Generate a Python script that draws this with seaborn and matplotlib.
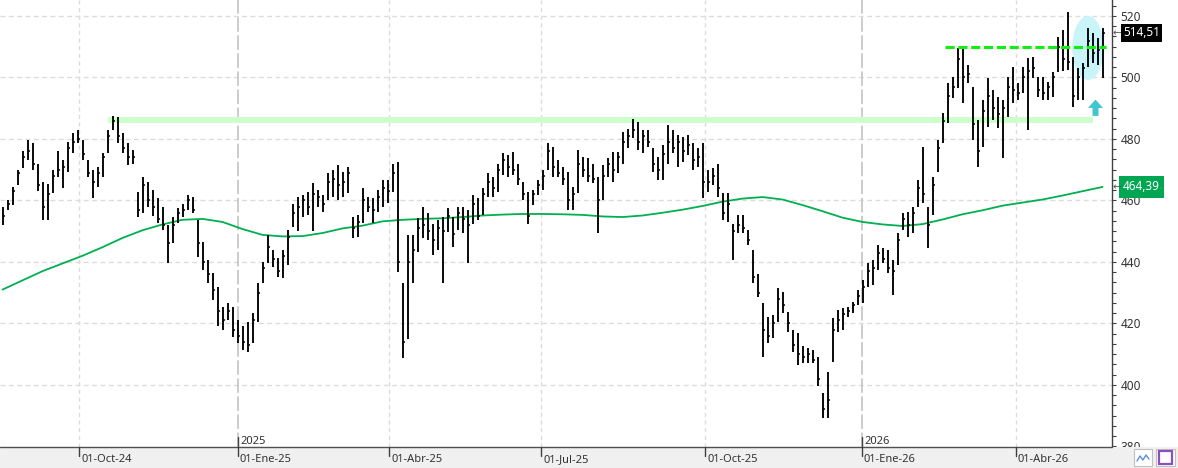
import numpy as np
import pandas as pd
import matplotlib
matplotlib.use("Agg")
import matplotlib.pyplot as plt
import matplotlib.transforms as mtrans
from matplotlib.patches import Ellipse, Polygon, Rectangle
from matplotlib.lines import Line2D
from matplotlib.ticker import MultipleLocator, AutoMinorLocator
import seaborn as sns

# -------------------------
# Price bars (one bar every 2 sessions)
# -------------------------
bar_high = [
    458, 460, 464.5, 470, 476, 479.6, 478.6, 472, 466, 465.5,
    470, 476, 473, 479, 481.8, 482.9, 479.6, 473, 470, 471,
    475.3, 482.9, 487.4, 487.2, 481.8, 478.6, 476.4, 462.8, 467.7, 466,
    463.4, 460.7, 458, 452, 454.7, 457.4, 459, 461.8, 461, 453.6,
    446.6, 440.6, 436.3, 432, 425.5, 426.6, 425.5, 421, 419, 420.6,
    423.3, 433, 440, 448.8, 443.9, 441.2, 443.9, 450.4, 459, 461.2,
    461.8, 462.9, 465.6, 463.4, 461.8, 468.8, 469.9, 471.5, 469.4, 471,
    454.7, 455.3, 464, 461.2, 460.7, 463.4, 466.7, 466.7, 472, 472.6,
    433, 448.8, 448.8, 454.2, 458, 456, 452.5, 453.6, 454.7, 457.4,
    454.7, 458, 458, 456.9, 461.8, 460.7, 463.9, 468.8, 467.7, 472,
    475.3, 474.8, 475.8, 472, 466.1, 462.8, 463.4, 466.6, 469.9, 478.6,
    477.5, 473.1, 471, 469.3, 464.5, 476.4, 474.2, 473.7, 472, 467.7,
    471.5, 473.7, 475.8, 475.8, 482.4, 483.4, 486.4, 485.6, 482.9, 482.9,
    476.9, 474.2, 478, 484.5, 482.9, 481.3, 480.7, 481.3, 478.6, 476.9,
    478.6, 469.9, 470.4, 472, 462.3, 462.3, 452.5, 455.3, 455.3, 450.4,
    443.9, 436, 426.6, 422.2, 422.8, 431.4, 430.3, 423.8, 417.9, 416.8,
    412.5, 411.9, 411.4, 409.2, 397.3, 404.3, 421.7, 424.4, 424.9, 425.5,
    427.1, 430.9, 434.1, 439.6, 440.6, 445.5, 444.4, 443.9, 440.6, 449.3,
    455.8, 456.4, 458, 466.7, 477.5, 458, 467.7, 479.7, 488.4, 498.1,
    500.3, 509.5, 509.5, 504.1, 497, 486.2, 492.7, 499.7, 495.9, 493.8,
    492.7, 500.3, 503.5, 498.1, 503.5, 506.2, 506.8, 500.3, 500.3, 498.6,
    501.9, 513.3, 515.4, 521.4, 506.8, 503, 504.6, 516, 514.4, 512.7, 516,
]
bar_low = [
    452, 457, 458.5, 465, 470.4, 473, 470, 463, 453.6, 453.6,
    462.3, 467.7, 464, 469.4, 475.3, 478.6, 473, 467.7, 460.7, 464.5,
    467.7, 475.3, 482.9, 478.6, 475.3, 471.5, 472, 454.7, 455.8, 458,
    455, 452.6, 450.4, 439.5, 446, 452.6, 454.7, 456.9, 455.8, 441.7,
    437.4, 433, 427.6, 419, 417.9, 421.1, 415.7, 413.5, 411.4, 410.8,
    413.5, 420.6, 433, 439.6, 438.5, 435.2, 434.7, 439, 451.5, 449.9,
    454.7, 455.3, 449.9, 458, 456.4, 460.2, 461.2, 460.2, 461.2, 462.3,
    447.7, 448.2, 452.6, 456.4, 452.6, 456.4, 458, 459.1, 462.8, 436.8,
    408.6, 415, 433, 443.3, 447.7, 447, 442.2, 443.9, 433, 449.8,
    445, 450.4, 449.3, 439.5, 452.5, 453.6, 455.3, 461.2, 461.2, 462.8,
    468.3, 467.7, 468.3, 465, 460.1, 452.5, 458.5, 461.8, 463.4, 470,
    467.7, 467.7, 465, 456.9, 456.9, 462.3, 467.7, 466.1, 465.6, 449.3,
    460.1, 467.7, 466.1, 468.8, 472, 477, 480.2, 476.4, 475.3, 477.5,
    469.3, 466.6, 466.6, 472, 475.3, 471, 472.6, 474.8, 469.9, 471,
    460.7, 462.8, 465, 461.2, 453.6, 453.1, 440.6, 449.3, 449.3, 445.5,
    433.3, 428.7, 409.2, 413.5, 415.2, 420.6, 423.3, 417.3, 410.8, 406.5,
    407, 407, 407, 399.5, 389.2, 389.2, 407.6, 417.3, 417.9, 422.2,
    423.3, 426, 426.6, 432, 432.5, 437.4, 439.6, 436.3, 429.3, 439,
    450.4, 448.2, 449.3, 458, 459.1, 444.4, 455.3, 469.4, 478.6, 485.1,
    493.2, 496.5, 491.6, 498.1, 479.7, 471, 477.5, 484, 486.2, 483.5,
    473.8, 487.3, 491.6, 492.7, 494.9, 482.9, 499.7, 493.8, 492.7, 492.7,
    493.8, 501.9, 502, 502.4, 490.5, 492.7, 492.7, 503.5, 504.6, 504.1, 499.7,
]
bar_close = [
    455, 459, 463, 469, 474, 476, 472, 465, 458, 462,
    468, 470, 471, 477, 479, 480, 475, 469, 466, 469,
    474, 481, 486, 481, 477, 474, 474, 457, 465, 460,
    458, 454, 452, 446, 452, 456, 457, 460, 457, 446,
    440, 436, 431, 424, 421, 424, 418, 416, 414, 413,
    421, 430, 438, 445, 441, 437, 442, 448, 456, 458,
    460, 458, 462, 461, 459, 466, 467, 465, 466, 469,
    451, 453, 460, 458, 457, 461, 464, 463, 469, 440,
    414, 440, 444, 451, 452, 450, 447, 451, 450, 455,
    449, 456, 454, 452, 459, 455, 462, 466, 464, 470,
    473, 471, 470, 467, 462, 455, 462, 465, 468, 476,
    471, 469, 467, 460, 462, 472, 470, 468, 467, 460,
    468, 472, 470, 474, 479, 481, 483, 479, 481, 479,
    472, 470, 475, 479, 477, 479, 476, 478, 473, 474,
    466, 466, 468, 464, 456, 459, 450, 452, 451, 447,
    435, 430, 418, 416, 420, 428, 426, 420, 413, 410,
    409, 410, 408, 402, 392, 395, 418, 421, 423, 424,
    426, 429, 432, 437, 438, 443, 441, 438, 437, 447,
    454, 452, 456, 464, 462, 452, 465, 477, 486, 494,
    497, 506, 500, 501, 485, 476, 489, 494, 490, 488,
    490, 497, 496, 495, 500, 502, 503, 496, 495, 497,
    500, 510, 506, 505, 494, 500, 503, 512, 508, 509, 514.51,
]
# 200-session moving average, one value every 4 bars
ma_200 = [
    431, 434, 437, 439.5, 442, 444.8, 447.8, 450.3, 452.2, 453.7,
    454, 453, 450.7, 448.8, 448.3, 448.4, 449.4, 450.9, 451.8, 453.2,
    453.7, 454, 454.2, 454.6, 455.1, 455.4, 455.6, 455.6, 455.5, 455.3,
    454.8, 454.6, 455.1, 456, 457, 458.2, 459.6, 460.6, 461.1, 460.3,
    458.5, 456.5, 454.4, 453, 452.2, 451.7, 452.3, 453.8, 455.5, 456.8,
    458.3, 459.3, 460.3, 461.6, 463, 464.39,
]
ma_step = 4

# axis labels (bar index where each month starts)
month_labels = ["01-Oct-24", "01-Ene-25", "01-Abr-25", "01-Jul-25",
                "01-Oct-25", "01-Ene-26", "01-Abr-26"]
month_pos = [15.3, 47.1, 77.3, 107.7, 140.5, 171.9, 202.7]
year_labels = {"2025": 47.1, "2026": 171.9}

# drawings on the chart
support_level, support_start, support_end = 486.3, 21, 218
resist_level, resist_start, resist_end = 509.8, 188.5, 220.6
circle_bar, circle_price = 217.1, 509.6

# -------------------------
# Figure
# -------------------------
sns.set_style("white")
plt.rcParams["font.family"] = ["Noto Sans", "DejaVu Sans"]

W, H = 1178, 468
fig = plt.figure(figsize=(W / 100, H / 100), dpi=100)
ax = fig.add_axes([0, 21 / H, 1112 / W, 447 / H])
ax.set_xlim(-0.5, 221.9)
ax.set_ylim(379.8, 525.2)

n = len(bar_close)
df = pd.DataFrame({"idx": np.arange(n), "high": bar_high,
                   "low": bar_low, "close": bar_close})
ma_df = pd.DataFrame({"idx": np.arange(0, n, ma_step), "ma": ma_200})

# grid
for y in range(400, 521, 20):
    ax.axhline(y, color="#dcdcdc", lw=1, ls=(0, (3.5, 2.5)), zorder=0)
for lab, p in zip(month_labels, month_pos):
    if p in year_labels.values():
        ax.axvline(p, color="#c8c8c8", lw=1.3, ls=(0, (8, 2)), zorder=0)
    else:
        ax.axvline(p, color="#dcdcdc", lw=1, ls=(0, (3, 2.5)), zorder=0)

# circle + support band
ax.add_patch(Ellipse((circle_bar, circle_price), 6.3, 20.8,
                     fc="#c8f4fa", ec="none", zorder=1))
ax.hlines(support_level, support_start, support_end, color="#ccffcc",
          lw=4.4, zorder=1)

# OHLC bars
ax.vlines(df["idx"], df["low"], df["high"], color="black", lw=1.35, zorder=3)
ax.hlines(df["close"], df["idx"], df["idx"] + 0.5, color="black", lw=1.1, zorder=3)

# moving average
sns.lineplot(data=ma_df, x="idx", y="ma", ax=ax, color="#00b050",
             linewidth=1.3, zorder=2)

# resistance
ax.hlines(resist_level, resist_start, resist_end, color="#11ee11", lw=2.2,
          linestyles=[(0, (3.0, 1.2))], zorder=4)

# arrow
ax_x = 218.6
arrow = [(ax_x - 1.5, 490.1), (ax_x, 492.8), (ax_x + 1.5, 490.1),
         (ax_x + 0.6, 490.1), (ax_x + 0.6, 487.5), (ax_x - 0.6, 487.5),
         (ax_x - 0.6, 490.1)]
ax.add_patch(Polygon(arrow, closed=True, fc="#3fc6cf", ec="none", zorder=4))

# right axis
ax.set_xlabel("")
ax.set_ylabel("")
ax.set_xticks([])
ax.yaxis.tick_right()
ax.yaxis.set_major_locator(MultipleLocator(20))
ax.yaxis.set_minor_locator(AutoMinorLocator(6))
ax.tick_params(axis="y", which="both", direction="out", length=3.2,
               width=0.8, color="#404040", labelsize=8.5,
               labelcolor="#333333", pad=3)
for s in ["top", "left", "bottom"]:
    ax.spines[s].set_visible(False)
ax.spines["right"].set_color("#404040")
ax.spines["right"].set_linewidth(1)

# value tags
ty = mtrans.blended_transform_factory(ax.transAxes, ax.transData)
last_txt = f"{bar_close[-1]:.2f}".replace(".", ",")
ma_txt = f"{ma_200[-1]:.2f}".replace(".", ",")
ax.text(1123 / 1112, bar_close[-1], last_txt, transform=ty, ha="left",
        va="center", color="white", fontsize=8.5, clip_on=False, zorder=10,
        bbox=dict(boxstyle="square,pad=0.2", fc="black", ec="none"))
ax.text(1123 / 1112, ma_200[-1], ma_txt, transform=ty, ha="left",
        va="center", color="white", fontsize=8.5, clip_on=False, zorder=10,
        bbox=dict(boxstyle="square,pad=0.35", fc="#00a651", ec="none"))
for v in (bar_close[-1], ma_200[-1]):
    ax.text(1112.5 / 1112, v, "←", transform=ty, ha="left", va="center",
            color="#555555", fontsize=7.5, clip_on=False, zorder=10,
            family=["DejaVu Sans"])

# year marks above the axis
tyear = mtrans.blended_transform_factory(ax.transData, ax.transAxes)
for lab, p in year_labels.items():
    ax.plot([p, p], [0, 10 / 447], transform=tyear, color="#404040", lw=1,
            zorder=5, clip_on=False)
    ax.text(p, 3 / 447, lab, transform=mtrans.offset_copy(tyear, fig=fig, x=2, units="dots"),
            ha="left", va="baseline", fontsize=8, color="#333333")

# bottom band with date labels
fig.add_artist(Rectangle((0, 0), 1, 21 / H, transform=fig.transFigure,
                         fc="#f0f0f0", ec="none", zorder=2.5))
fig.add_artist(Line2D([0, 1112 / W], [21 / H, 21 / H], transform=fig.transFigure,
                      color="#505050", lw=1, zorder=4))
tx = mtrans.blended_transform_factory(ax.transData, fig.transFigure)
for lab, p in zip(month_labels, month_pos):
    fig.add_artist(Line2D([p, p], [21 / H, 12 / H], transform=tx,
                          color="#404040", lw=1, zorder=5))
    fig.text(p, 8.5 / H, lab, transform=mtrans.offset_copy(tx, fig=fig, x=2, units="dots"),
             ha="left", va="center", fontsize=8, color="#333333", zorder=6)

# small toolbar icons bottom right
fig.add_artist(Rectangle((1134 / W, 2 / H), 18 / W, 17 / H, transform=fig.transFigure,
                         fc="white", ec="#c0c0c0", lw=0.8, zorder=5))
fig.add_artist(Line2D(np.array([1137, 1140, 1143, 1146, 1149]) / W,
                      np.array([7, 12, 8, 13, 9]) / H, transform=fig.transFigure,
                      color="#5b8fd6", lw=1, zorder=6))
fig.add_artist(Rectangle((1156 / W, 2 / H), 19 / W, 17 / H, transform=fig.transFigure,
                         fc="white", ec="#c0c0c0", lw=0.8, zorder=5))
fig.add_artist(Rectangle((1159 / W, 4 / H), 13 / W, 13 / H, transform=fig.transFigure,
                         fc="none", ec="#8a4fc0", lw=1.6, zorder=6))

fig.savefig("out.png", dpi=100, facecolor="white")
